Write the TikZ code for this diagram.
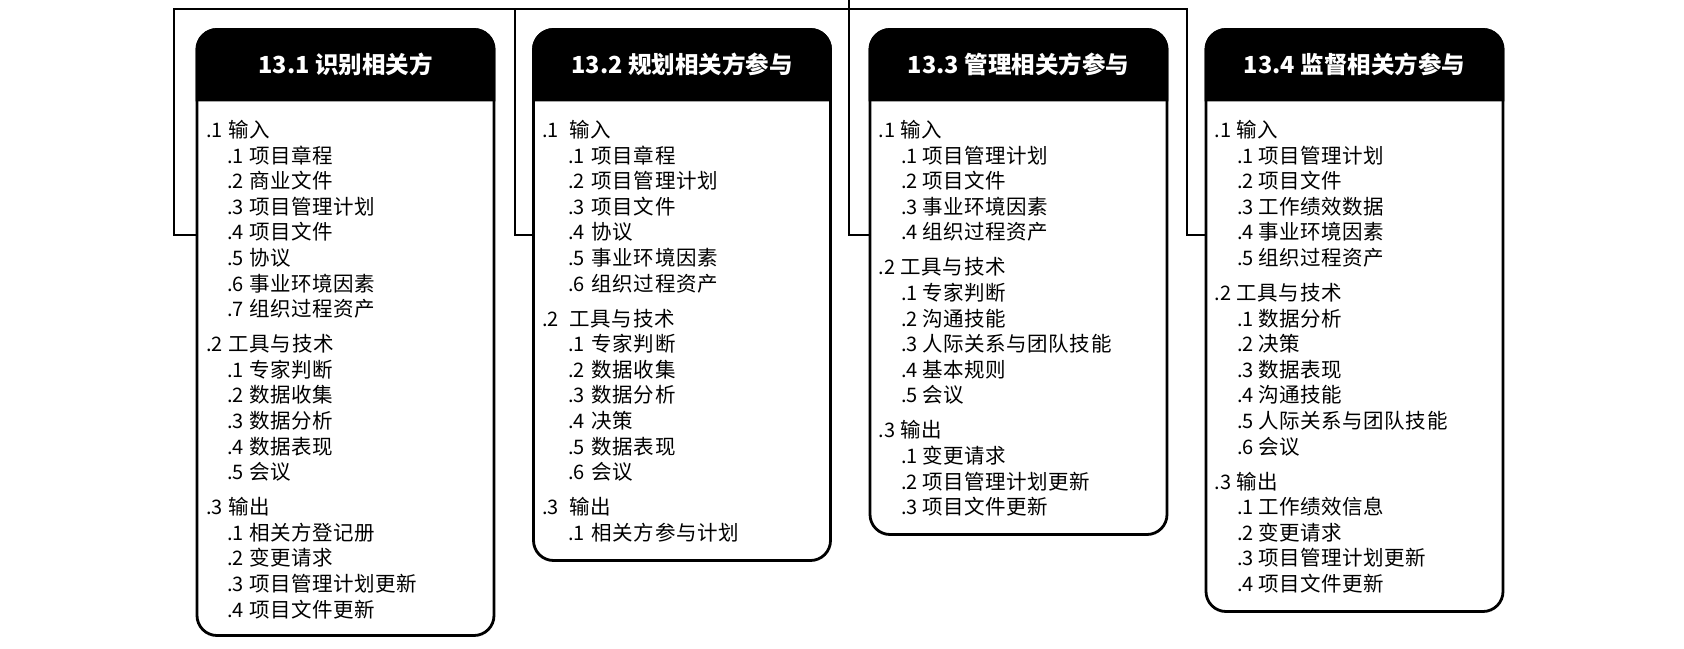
\documentclass[tikz,border=0pt]{standalone}
\usepackage{fontspec}
\usetikzlibrary{calc}
\setmainfont{Noto Sans CJK SC}
\begin{document}
\begin{tikzpicture}[x=1pt,y=-1pt,
  box/.style={draw,line width=2.8pt,rounded corners=20pt,inner sep=0pt,outer sep=0pt,anchor=north west,minimum width=297pt},
  hdr/.style={fill=black,draw=black,line width=2.8pt},
  htext/.style={text=white,font=\fontsize{23.5}{23.5}\selectfont\bfseries,inner sep=0pt},
  num/.style={anchor=base west,inner sep=0pt,font=\fontsize{20}{20}\selectfont},
  lbl/.style={anchor=base west,inner sep=0pt,font=\fontsize{20.5}{20.5}\selectfont\addfontfeatures{LetterSpace=3}},
  conn/.style={draw,line width=2.5pt}]
\useasboundingbox (0,0) rectangle (1684,648);
\def\XA{0}\def\XB{0}\def\XC{0}\def\XD{0}
\newcommand\TopRow[4]{\node[num] (#1a) at (\XA,#2+7.5) {#3};\node[lbl] (#1b) at (\XB,#2+7.5) {#4};}
\newcommand\SubRow[4]{\node[num] (#1a) at (\XC,#2+7.5) {#3};\node[lbl] (#1b) at (\XD,#2+7.5) {#4};}
% boxes
\node[box,minimum height=606pt] (b1) at (197,29.5) {};
\node[box,minimum height=531pt] (b2) at (533.5,29.5) {};
\node[box,minimum height=505pt] (b3) at (870,29.5) {};
\node[box,minimum height=582pt] (b4) at (1206,29.5) {};
% headers
\foreach \b in {b1,b2,b3,b4}{
  \path[hdr] (\b.north west |- 0,100) [rounded corners=20pt] -- (\b.north west) -- (\b.north east) [sharp corners] -- (\b.north east |- 0,100) -- cycle;
}
\node[htext] (h1) at ($(b1.north)+(0,35)$) {13.1 识别相关方};
\node[htext] (h2) at ($(b2.north)+(0,35)$) {13.2 规划相关方参与};
\node[htext] (h3) at ($(b3.north)+(0,35)$) {13.3 管理相关方参与};
\node[htext] (h4) at ($(b4.north)+(0,35)$) {13.4 监督相关方参与};
% connectors
\coordinate (tl) at (174,9);
\coordinate (tr) at (1187,9);
\coordinate (tm) at (515,9);
\coordinate (tt) at (849,0);
\draw[conn] (b1.west |- 0,235) -| (tl) -- (tr) |- (b4.west |- 0,235);
\draw[conn] (tm) |- (b2.west |- 0,235);
\draw[conn] (tt) |- (b3.west |- 0,235);
% box 1
\def\XA{206}\def\XB{228.5}\def\XC{227}\def\XD{249}
\TopRow{p1r1}{130}{.1}{输入}
\SubRow{p1r2}{155.6}{.1}{项目章程}
\SubRow{p1r3}{181.2}{.2}{商业文件}
\SubRow{p1r4}{206.8}{.3}{项目管理计划}
\SubRow{p1r5}{232.4}{.4}{项目文件}
\SubRow{p1r6}{258}{.5}{协议}
\SubRow{p1r7}{283.6}{.6}{事业环境因素}
\SubRow{p1r8}{309.2}{.7}{组织过程资产}
\TopRow{p1r9}{344.2}{.2}{工具与技术}
\SubRow{p1r10}{369.8}{.1}{专家判断}
\SubRow{p1r11}{395.4}{.2}{数据收集}
\SubRow{p1r12}{421}{.3}{数据分析}
\SubRow{p1r13}{446.6}{.4}{数据表现}
\SubRow{p1r14}{472.2}{.5}{会议}
\TopRow{p1r15}{507.2}{.3}{输出}
\SubRow{p1r16}{532.8}{.1}{相关方登记册}
\SubRow{p1r17}{558.4}{.2}{变更请求}
\SubRow{p1r18}{584}{.3}{项目管理计划更新}
\SubRow{p1r19}{609.6}{.4}{项目文件更新}
% box 2
\def\XA{542}\def\XB{569.5}\def\XC{568}\def\XD{591.5}
\TopRow{p2r1}{130}{.1}{输入}
\SubRow{p2r2}{155.6}{.1}{项目章程}
\SubRow{p2r3}{181.2}{.2}{项目管理计划}
\SubRow{p2r4}{206.8}{.3}{项目文件}
\SubRow{p2r5}{232.4}{.4}{协议}
\SubRow{p2r6}{258}{.5}{事业环境因素}
\SubRow{p2r7}{283.6}{.6}{组织过程资产}
\TopRow{p2r8}{318.6}{.2}{工具与技术}
\SubRow{p2r9}{344.2}{.1}{专家判断}
\SubRow{p2r10}{369.8}{.2}{数据收集}
\SubRow{p2r11}{395.4}{.3}{数据分析}
\SubRow{p2r12}{421}{.4}{决策}
\SubRow{p2r13}{446.6}{.5}{数据表现}
\SubRow{p2r14}{472.2}{.6}{会议}
\TopRow{p2r15}{507.2}{.3}{输出}
\SubRow{p2r16}{532.8}{.1}{相关方参与计划}
% box 3
\def\XA{878.5}\def\XB{900.5}\def\XC{901}\def\XD{922}
\TopRow{p3r1}{130}{.1}{输入}
\SubRow{p3r2}{155.6}{.1}{项目管理计划}
\SubRow{p3r3}{181.2}{.2}{项目文件}
\SubRow{p3r4}{206.8}{.3}{事业环境因素}
\SubRow{p3r5}{232.4}{.4}{组织过程资产}
\TopRow{p3r6}{267.4}{.2}{工具与技术}
\SubRow{p3r7}{293}{.1}{专家判断}
\SubRow{p3r8}{318.6}{.2}{沟通技能}
\SubRow{p3r9}{344.2}{.3}{人际关系与团队技能}
\SubRow{p3r10}{369.8}{.4}{基本规则}
\SubRow{p3r11}{395.4}{.5}{会议}
\TopRow{p3r12}{430.4}{.3}{输出}
\SubRow{p3r13}{456}{.1}{变更请求}
\SubRow{p3r14}{481.6}{.2}{项目管理计划更新}
\SubRow{p3r15}{507.2}{.3}{项目文件更新}
% box 4
\def\XA{1214.7}\def\XB{1236.5}\def\XC{1237}\def\XD{1258}
\TopRow{p4r1}{130}{.1}{输入}
\SubRow{p4r2}{155.6}{.1}{项目管理计划}
\SubRow{p4r3}{181.2}{.2}{项目文件}
\SubRow{p4r4}{206.8}{.3}{工作绩效数据}
\SubRow{p4r5}{232.4}{.4}{事业环境因素}
\SubRow{p4r6}{258}{.5}{组织过程资产}
\TopRow{p4r7}{293}{.2}{工具与技术}
\SubRow{p4r8}{318.6}{.1}{数据分析}
\SubRow{p4r9}{344.2}{.2}{决策}
\SubRow{p4r10}{369.8}{.3}{数据表现}
\SubRow{p4r11}{395.4}{.4}{沟通技能}
\SubRow{p4r12}{421}{.5}{人际关系与团队技能}
\SubRow{p4r13}{446.6}{.6}{会议}
\TopRow{p4r14}{481.6}{.3}{输出}
\SubRow{p4r15}{507.2}{.1}{工作绩效信息}
\SubRow{p4r16}{532.8}{.2}{变更请求}
\SubRow{p4r17}{558.4}{.3}{项目管理计划更新}
\SubRow{p4r18}{584}{.4}{项目文件更新}
\end{tikzpicture}
\end{document}
